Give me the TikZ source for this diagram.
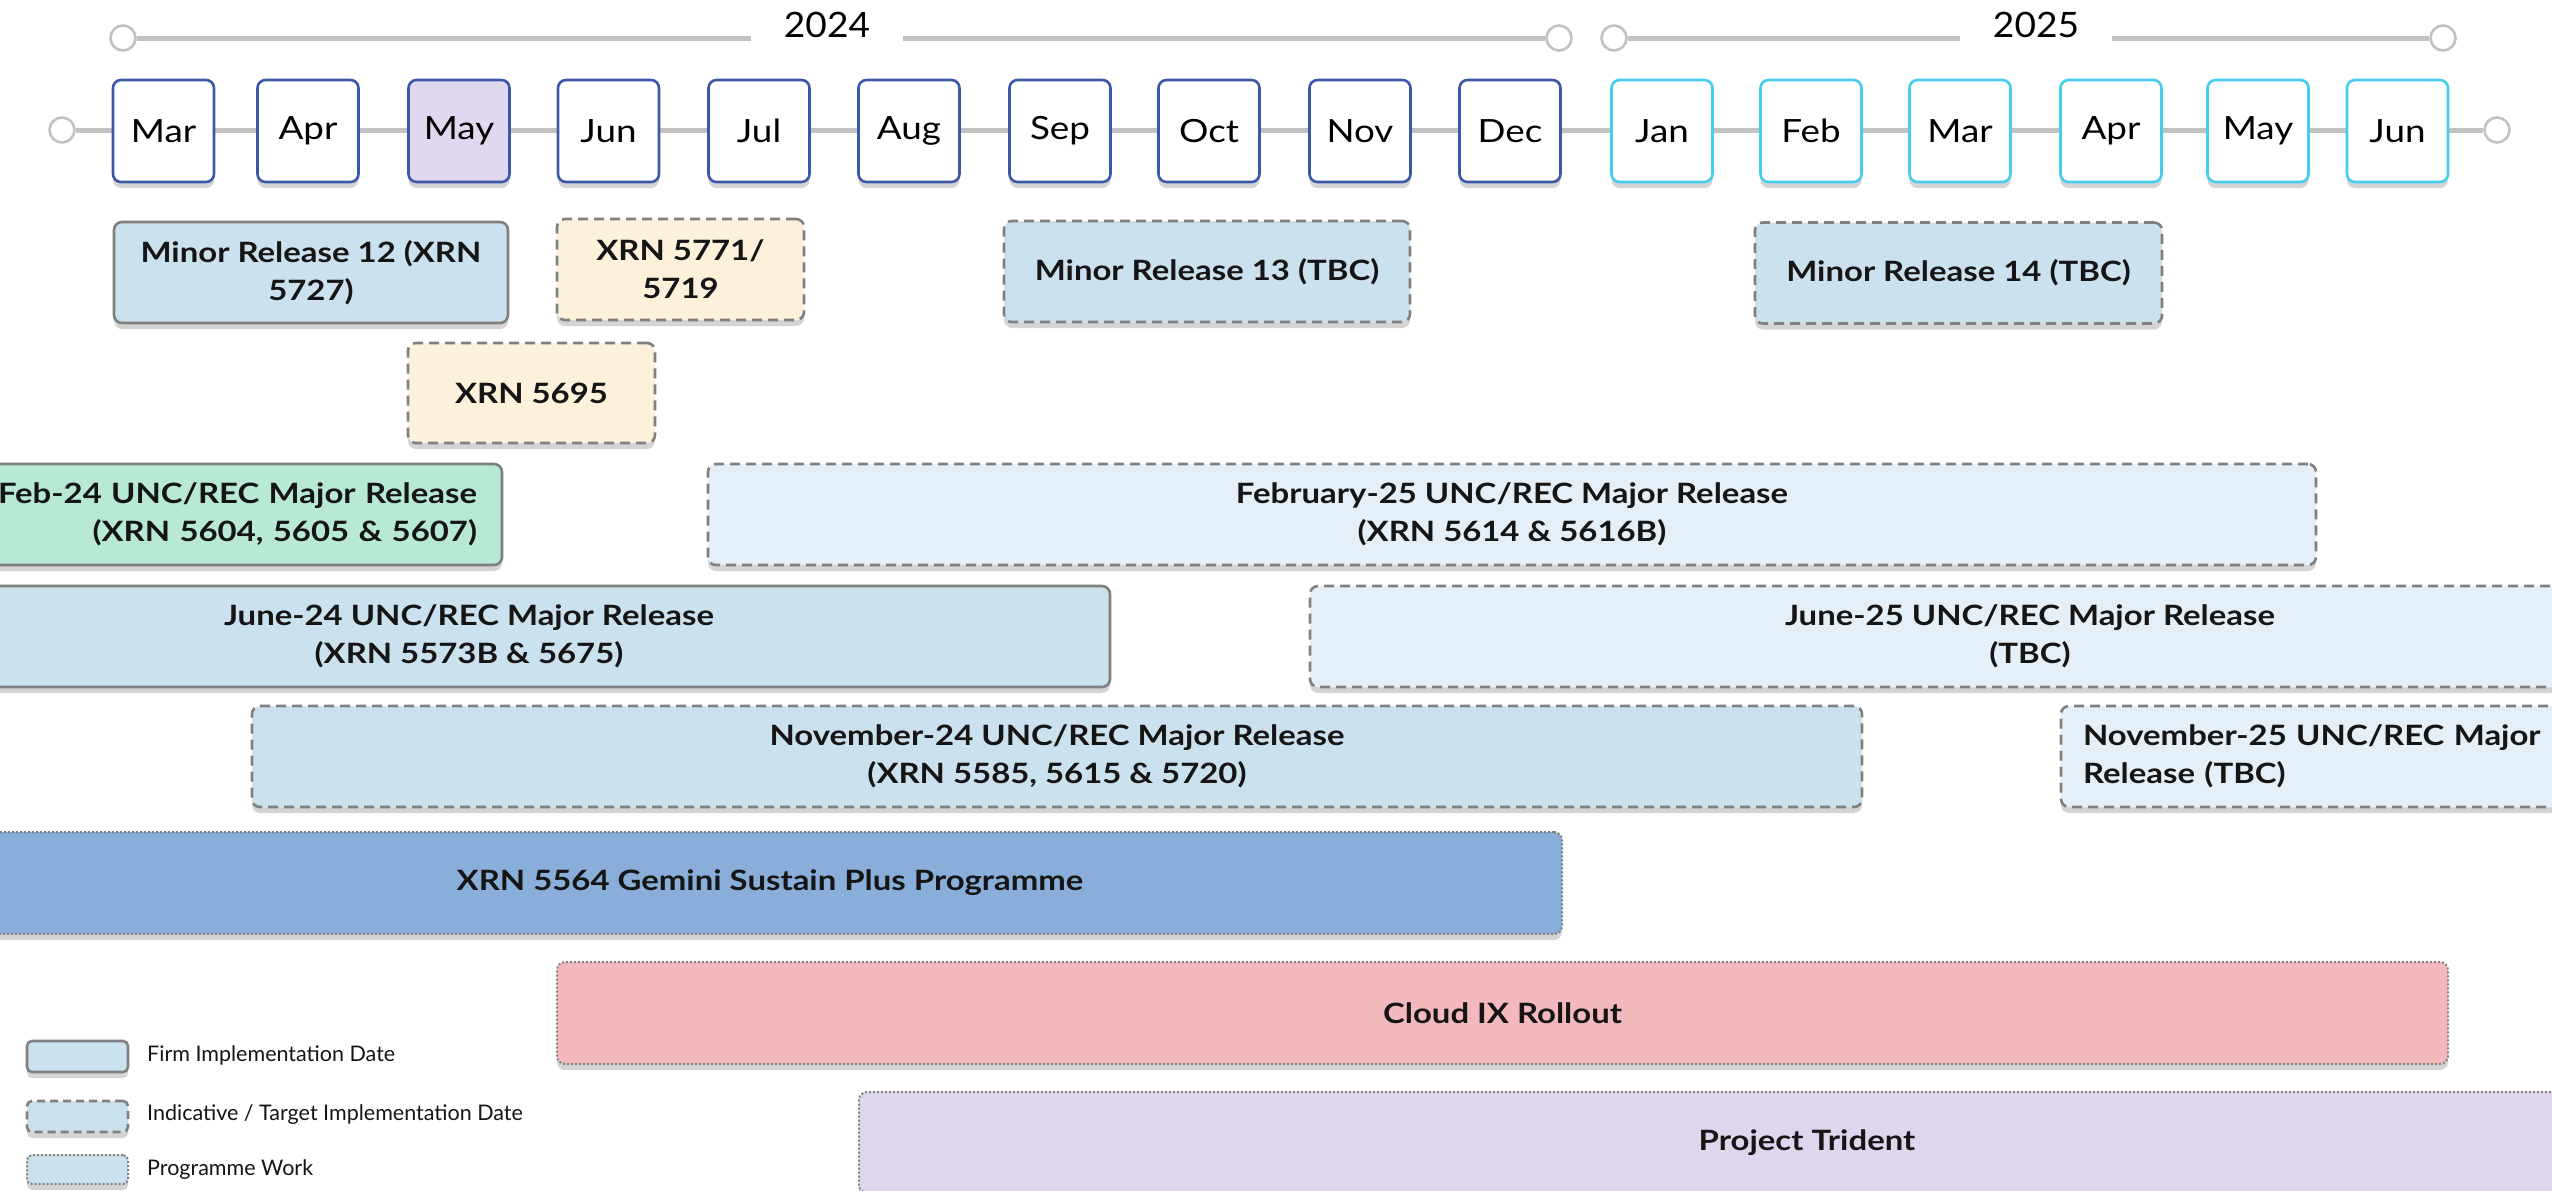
\documentclass[tikz,border=0pt]{standalone}
\usepackage{fontspec}
\setmainfont{Lato}
\newfontfamily\barfont{Lato}[FakeStretch=1.175]
\newfontfamily\monthfont{Lato}[FakeStretch=1.15]
\newfontfamily\yearfont{Lato}[FakeStretch=1.06]
\usetikzlibrary{shadows}
\definecolor{mblue}{HTML}{3D58A8}
\definecolor{mcyan}{HTML}{45CDEE}
\definecolor{mayfill}{HTML}{DFD8EE}
\definecolor{tlgray}{HTML}{C2C2C2}
\definecolor{bgray}{HTML}{808080}
\definecolor{lblue}{HTML}{CCE1EE}
\definecolor{vlblue}{HTML}{E4EFF7}
\definecolor{cream}{HTML}{FDF1DC}
\definecolor{mint}{HTML}{B8E9D5}
\definecolor{gemblue}{HTML}{8AAEDA}
\definecolor{pinkbar}{HTML}{F4B9BD}
\definecolor{lav}{HTML}{DFD6EE}
\definecolor{txt}{HTML}{151515}
\tikzset{
  shad/.style={drop shadow={shadow xshift=0pt, shadow yshift=-6pt, opacity=0.28, fill=black!60}},
  month/.style={draw=mblue, line width=2.6pt, rounded corners=8pt, fill=white, shad,
    minimum width=101pt, minimum height=102pt, inner sep=0pt,
    font=\monthfont\fontsize{32}{36}\selectfont},
  month25/.style={month, draw=mcyan},
  tlcirc/.style={circle, draw=tlgray, line width=2.6pt, fill=white, minimum size=25pt, inner sep=0pt},
  tline/.style={draw=tlgray, line width=5pt},
  yeartext/.style={inner sep=0pt, minimum width=152pt,
    font=\yearfont\fontsize{35}{40}\selectfont, anchor=base},
  bar/.style={rounded corners=8pt, shad, inner sep=0pt, minimum height=101pt,
    text=txt, align=center, font=\barfont\fontsize{28}{38}\selectfont\bfseries},
  firm/.style={bar, draw=bgray, line width=2.6pt},
  indic/.style={bar, draw=bgray, line width=2.6pt, dash pattern=on 10pt off 6pt},
  prog/.style={bar, draw=bgray, line width=2pt, dash pattern=on 2pt off 2pt},
  legbox/.style={rounded corners=5pt, shad, minimum width=101pt, minimum height=31pt, inner sep=0pt, fill=lblue},
  legtext/.style={anchor=west, inner sep=0pt, text=txt, font=\fontsize{21.5}{24}\selectfont},
}
\begin{document}
\begin{tikzpicture}[x=1pt,y=-1pt]
\useasboundingbox (0,0) rectangle (2552,1191);
\clip (0,0) rectangle (2552,1191);

% year lines
\node[tlcirc] (c24a) at (123,38) {};
\node[tlcirc] (c24b) at (1559,38) {};
\node[tlcirc] (c25a) at (1614,38) {};
\node[tlcirc] (c25b) at (2443,38) {};
\node[yeartext] (y2024) at (827,37) {2024};
\node[yeartext] (y2025) at (2036,37) {2025};
\draw[tline] (c24a.east) -- (c24a -| y2024.west);
\draw[tline] (c24b -| y2024.east) -- (c24b.west);
\draw[tline] (c25a.east) -- (c25a -| y2025.west);
\draw[tline] (c25b -| y2025.east) -- (c25b.west);

% month timeline
\node[tlcirc] (tl0) at (62,130) {};
\node[tlcirc] (tl1) at (2497,130) {};
\draw[tline] (tl0.east) -- (tl1.west);

\node[month] (m1) at (163.5,131) {Mar};
\node[month] (m2) at (308,131) {Apr};
\node[month, fill=mayfill] (m3) at (459,131) {May};
\node[month] (m4) at (608.5,131) {Jun};
\node[month] (m5) at (759,131) {Jul};
\node[month] (m6) at (909,131) {Aug};
\node[month] (m7) at (1060,131) {Sep};
\node[month] (m8) at (1209,131) {Oct};
\node[month] (m9) at (1360,131) {Nov};
\node[month] (m10) at (1510,131) {Dec};
\node[month25] (m11) at (1662,131) {Jan};
\node[month25] (m12) at (1811,131) {Feb};
\node[month25] (m13) at (1960,131) {Mar};
\node[month25] (m14) at (2111,131) {Apr};
\node[month25] (m15) at (2258,131) {May};
\node[month25] (m16) at (2397.5,131) {Jun};

% bars
\node[firm, fill=lblue, minimum width=394pt] (mr12) at (311,272.5) {Minor Release 12 (XRN\\5727)};
\node[indic, fill=cream, minimum width=247pt] (x5771) at (680.5,269.5) {XRN 5771/\\5719};
\node[indic, fill=lblue, minimum width=406pt] (mr13) at (1207,271.5) {Minor Release 13 (TBC)};
\node[indic, fill=lblue, minimum width=407pt] (mr14) at (1958.5,273) {Minor Release 14 (TBC)};
\node[indic, fill=cream, minimum width=247pt, minimum height=100pt] (x5695) at (531.5,393) {XRN 5695};

\node[firm, fill=mint, minimum width=802pt, text width=752pt, align=right] (feb24) at (101,514.5) {Feb-24 UNC/REC Major Release\\(XRN 5604, 5605 \& 5607)};
\node[indic, fill=vlblue, minimum width=1608pt] (feb25) at (1512,514.5) {February-25 UNC/REC Major Release\\(XRN 5614 \& 5616B)};

\node[firm, fill=lblue, minimum width=1282pt] (jun24) at (469,636.5) {June-24 UNC/REC Major Release\\(XRN 5573B \& 5675)};
\node[indic, fill=vlblue, minimum width=1440pt] (jun25) at (2030,636.5) {June-25 UNC/REC Major Release\\(TBC)};

\node[indic, fill=lblue, minimum width=1610pt] (nov24) at (1057,756.5) {November-24 UNC/REC Major Release\\(XRN 5585, 5615 \& 5720)};
\node[indic, fill=vlblue, minimum width=639pt, text width=595pt, align=left] (nov25) at (2380.5,756.5) {November-25 UNC/REC Major\\Release (TBC)};

\node[prog, fill=gemblue, minimum width=1584pt, minimum height=102pt] (gem) at (770,883) {XRN 5564 Gemini Sustain Plus Programme};
\node[prog, fill=pinkbar, minimum width=1891pt, minimum height=102pt] (cloud) at (1502.5,1013) {Cloud IX Rollout};
\node[prog, fill=lav, minimum width=1896pt] (trident) at (1807,1142.5) {Project Trident};

% legend
\node[legbox, draw=bgray, line width=2.6pt] (lg1) at (77.5,1056.5) {};
\node[legbox, draw=bgray, line width=2.6pt, dash pattern=on 8pt off 5pt] (lg2) at (77.5,1116.5) {};
\node[legbox, draw=bgray, line width=2pt, dash pattern=on 2pt off 2pt, minimum height=29pt] (lg3) at (77.5,1169.5) {};
\node[legtext] (lt1) at (147,1055) {Firm Implementation Date};
\node[legtext] (lt2) at (147,1115) {Indicative / Target Implementation Date};
\node[legtext] (lt3) at (147,1170) {Programme Work};
\end{tikzpicture}
\end{document}
